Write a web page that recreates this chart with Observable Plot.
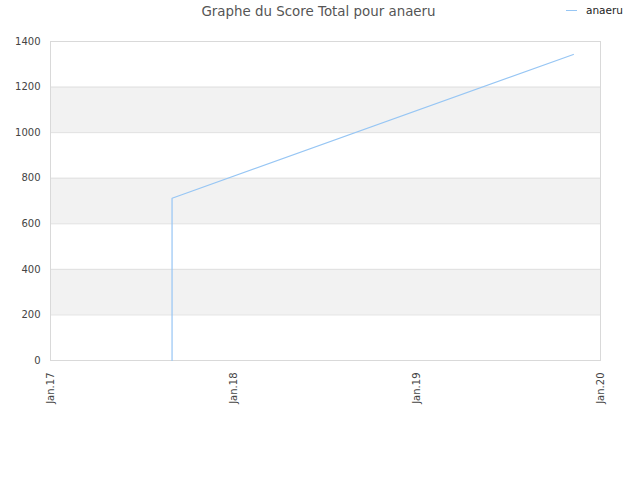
<!DOCTYPE html>
<html>
<head>
<meta charset="utf-8">
<script src="https://cdn.jsdelivr.net/npm/d3@7"></script>
<script src="https://cdn.jsdelivr.net/npm/@observablehq/plot@0.6"></script>
<style>
  body { margin: 0; background: #fff; }
  #wrap { position: relative; width: 640px; height: 480px; font-family: "DejaVu Sans", sans-serif; }
  #title { position: absolute; top: 4px; left: 0; width: 637px; text-align: center; font-size: 13.4px; color: #555; }
  #legend { position: absolute; top: 4px; left: 566px; font-size: 10.5px; color: #222; display: flex; align-items: center; }
  #legend span.sw { display: inline-block; width: 11px; height: 0; border-top: 1.5px solid #97c6f4; margin-right: 9px; }
  #chart { position: absolute; top: 0; left: 0; }
</style>
</head>
<body>
<div id="wrap">
  <div id="chart"></div>
  <div id="title">Graphe du Score Total pour anaeru</div>
  <div id="legend"><span class="sw"></span>anaeru</div>
</div>
<script>
const seriesName = "anaeru";
const dates = ["2017-08-31", "2017-08-31", "2019-11-08"];
const scores = [0, 712, 1343];
const yTicks = [0, 200, 400, 600, 800, 1000, 1200, 1400];
const bandStarts = [200, 600, 1000];
const bandSize = 200;
const xTickDates = ["2017-01-01", "2018-01-01", "2019-01-01", "2020-01-01"];
const xTickLabels = ["Jan.17", "Jan.18", "Jan.19", "Jan.20"];

const data = dates.map((d, i) => ({date: new Date(d), score: scores[i]}));
const xTicks = xTickDates.map(d => new Date(d));
const bands = bandStarts.map(b => ({y1: b, y2: b + bandSize}));

const chart = Plot.plot({
  width: 640,
  height: 480,
  marginLeft: 50,
  marginRight: 40,
  marginTop: 41,
  marginBottom: 120,
  style: {fontFamily: "DejaVu Sans, sans-serif", fontSize: "10px", color: "#444", background: "transparent"},
  x: {type: "utc", domain: [xTicks[0], xTicks[3]]},
  y: {domain: [0, 1400]},
  marks: [
    Plot.rectY(bands, {x1: xTicks[0], x2: xTicks[3], y1: "y1", y2: "y2", fill: "#f2f2f2"}),
    Plot.ruleY(yTicks, {stroke: "#e0e0e0", strokeWidth: 1}),
    Plot.frame({stroke: "#d9d9d9"}),
    Plot.axisY({ticks: yTicks, tickFormat: d => String(d), tickSize: 0, tickPadding: 10, label: null, fill: "#444"}),
    Plot.axisX({ticks: xTicks, tickFormat: (d) => xTickLabels[xTicks.findIndex(t => +t === +d)], tickRotate: -90, tickSize: 0, tickPadding: 12, label: null, fill: "#444"}),
    Plot.line(data, {x: "date", y: "score", stroke: "#97c6f4", strokeWidth: 1.2})
  ]
});
document.getElementById("chart").appendChild(chart);
</script>
</body>
</html>
